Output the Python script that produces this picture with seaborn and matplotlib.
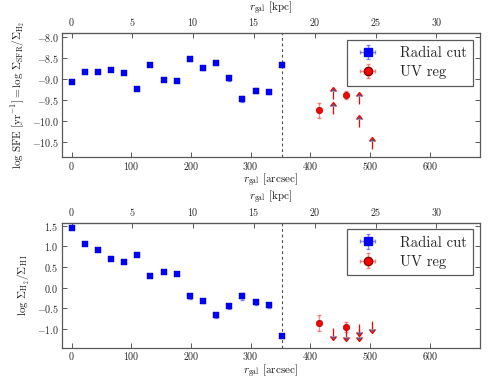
import numpy as np
import pandas as pd
import matplotlib
matplotlib.use("Agg")
import matplotlib.pyplot as plt
import seaborn as sns

# radial cut (blue squares), arcsec
r_cut = [0, 22, 44, 66, 88, 110, 132, 154, 176, 198, 220, 242, 264, 286, 308, 330, 352]
sfe_cut = [-9.06, -8.82, -8.83, -8.77, -8.86, -9.23, -8.65, -9.01, -9.05, -8.52, -8.74,
           -8.61, -8.98, -9.47, -9.27, -9.30, -8.67]
sfe_cut_err = [0.02, 0.02, 0.02, 0.02, 0.02, 0.02, 0.02, 0.02, 0.02, 0.04, 0.04,
               0.05, 0.05, 0.07, 0.05, 0.04, 0.03]
mol_cut = [1.43, 1.06, 0.91, 0.69, 0.63, 0.80, 0.27, 0.37, 0.33, -0.21, -0.33,
           -0.67, -0.45, -0.21, -0.35, -0.43, -1.17]
mol_cut_err = [0.02, 0.02, 0.02, 0.02, 0.02, 0.02, 0.02, 0.02, 0.02, 0.06, 0.04,
               0.07, 0.06, 0.08, 0.06, 0.06, 0.04]

# UV regions (red circles)
r_uv = [415, 459]
sfe_uv = [-9.74, -9.38]
sfe_uv_err = [0.18, 0.10]
mol_uv = [-0.85, -0.95]
mol_uv_err = [0.19, 0.11]

# UV regions with limits only
r_sfe_lim = [437, 437, 481, 481, 503]
sfe_lim = [-9.46, -9.82, -9.60, -10.14, -10.65]
r_mol_lim = [437, 459, 481, 481, 503]
mol_lim = [-0.98, -1.01, -0.87, -0.99, -0.80]
lim_len = 0.19

r_edge = 352
kpc_per_arcsec = 0.0491

sns.set_style("ticks")
plt.rcParams["font.family"] = "serif"
plt.rcParams["font.serif"] = ["cmr10", "DejaVu Serif"]
plt.rcParams["mathtext.fontset"] = "cm"
plt.rcParams["axes.formatter.use_mathtext"] = True
plt.rcParams["axes.edgecolor"] = "0.35"
plt.rcParams["xtick.color"] = "0.35"
plt.rcParams["ytick.color"] = "0.35"
plt.rcParams["xtick.labelcolor"] = "0.15"
plt.rcParams["ytick.labelcolor"] = "0.15"
plt.rcParams["xtick.direction"] = "in"
plt.rcParams["ytick.direction"] = "in"
plt.rcParams["axes.unicode_minus"] = True

fig = plt.figure(figsize=(5.01, 3.80), dpi=100)
ax1 = fig.add_axes([0.124, 0.587, 0.834, 0.326])
ax2 = fig.add_axes([0.124, 0.085, 0.834, 0.329])

blue_err = (0.0, 0.0, 1.0, 0.45)
red_err = (1.0, 0.0, 0.0, 0.45)


def draw_panel(ax, y_cut, y_cut_err, y_uv, y_uv_err, r_lim, y_lim, up):
    cut = pd.DataFrame({"r": r_cut, "y": y_cut})
    uv = pd.DataFrame({"r": r_uv, "y": y_uv})
    ax.errorbar(r_cut, y_cut, yerr=y_cut_err, xerr=1.5, fmt="none", ecolor=blue_err,
                elinewidth=1.0, capsize=1.5, zorder=2)
    sns.scatterplot(data=cut, x="r", y="y", marker="s", color="blue", s=20,
                    edgecolor="#0000aa", linewidth=0.3, ax=ax, zorder=3, legend=False)
    ax.errorbar(r_uv, y_uv, yerr=y_uv_err, xerr=1.5, fmt="none", ecolor=red_err,
                elinewidth=1.0, capsize=1.5, zorder=2)
    sns.scatterplot(data=uv, x="r", y="y", marker="o", color="red", s=22,
                    edgecolor="darkred", linewidth=0.4, ax=ax, zorder=3, legend=False)

    # limits: arrows without a cap at the base
    lim_err = [lim_len] * len(r_lim)
    eb = ax.errorbar(r_lim, y_lim, yerr=lim_err, lolims=up, uplims=not up, fmt="none",
                     ecolor="red", elinewidth=0.9, capsize=2.0, zorder=2)
    for cl in eb[1]:
        if cl.get_marker() == "_":
            cl.set_visible(False)

    ax.axvline(r_edge, color="0.3", ls=(0, (2.5, 2.5)), lw=0.8, zorder=1)

    # legend proxies
    ax.errorbar([np.nan], [np.nan], xerr=[1], yerr=[1], fmt="s", color="blue", ms=6,
                ecolor=blue_err, elinewidth=1.0, capsize=1.5, label="Radial cut")
    ax.errorbar([np.nan], [np.nan], xerr=[1], yerr=[1], fmt="o", color="red", mec="darkred",
                ms=6, ecolor=red_err, elinewidth=1.0, capsize=1.5, label="UV reg")
    leg = ax.legend(loc="upper right", fontsize=10.5, fancybox=False, framealpha=1,
                    edgecolor="0.35", borderaxespad=0.45, handlelength=2.0,
                    handletextpad=1.2, borderpad=0.45, labelspacing=0.35)
    leg.get_frame().set_linewidth(0.9)

    ax.set_xlim(-16, 684)
    ax.set_xticks([0, 100, 200, 300, 400, 500, 600])
    ax.set_xlabel(r"$r_\mathrm{gal}$ [arcsec]", fontsize=8, color="0.1", labelpad=0)
    ax.tick_params(axis="both", labelsize=7.2, length=3.5, width=0.7,
                   right=True, pad=2.5)
    ax.tick_params(axis="x", pad=2)
    for s in ax.spines.values():
        s.set_linewidth(0.9)

    top = ax.secondary_xaxis("top", functions=(lambda x: x * kpc_per_arcsec,
                                               lambda k: k / kpc_per_arcsec))
    top.set_xticks([0, 5, 10, 15, 20, 25, 30])
    top.tick_params(axis="x", labelsize=7.2, length=3.5, width=0.7, direction="in", pad=3.5)
    top.set_xlabel(r"$r_\mathrm{gal}$ [kpc]", fontsize=8, color="0.1", labelpad=4)


draw_panel(ax1, sfe_cut, sfe_cut_err, sfe_uv, sfe_uv_err, r_sfe_lim, sfe_lim, up=True)
ax1.set_ylim(-10.85, -7.9)
ax1.set_yticks([-8.0, -8.5, -9.0, -9.5, -10.0, -10.5])
ax1.set_ylabel(r"$\log\,\mathrm{SFE}\ [\mathrm{yr}^{-1}] = \log\,\Sigma_\mathrm{SFR}/\Sigma_{\mathrm{H}_2}$",
               fontsize=8, color="0.1", labelpad=3)

draw_panel(ax2, mol_cut, mol_cut_err, mol_uv, mol_uv_err, r_mol_lim, mol_lim, up=False)
ax2.set_ylim(-1.45, 1.57)
ax2.set_yticks([1.5, 1.0, 0.5, 0.0, -0.5, -1.0])
ax2.set_ylabel(r"$\log\,\Sigma_{\mathrm{H}_2}/\Sigma_{\mathrm{H\,I}}$",
               fontsize=8, color="0.1", labelpad=3)

fig.savefig("out.png", dpi=100)
